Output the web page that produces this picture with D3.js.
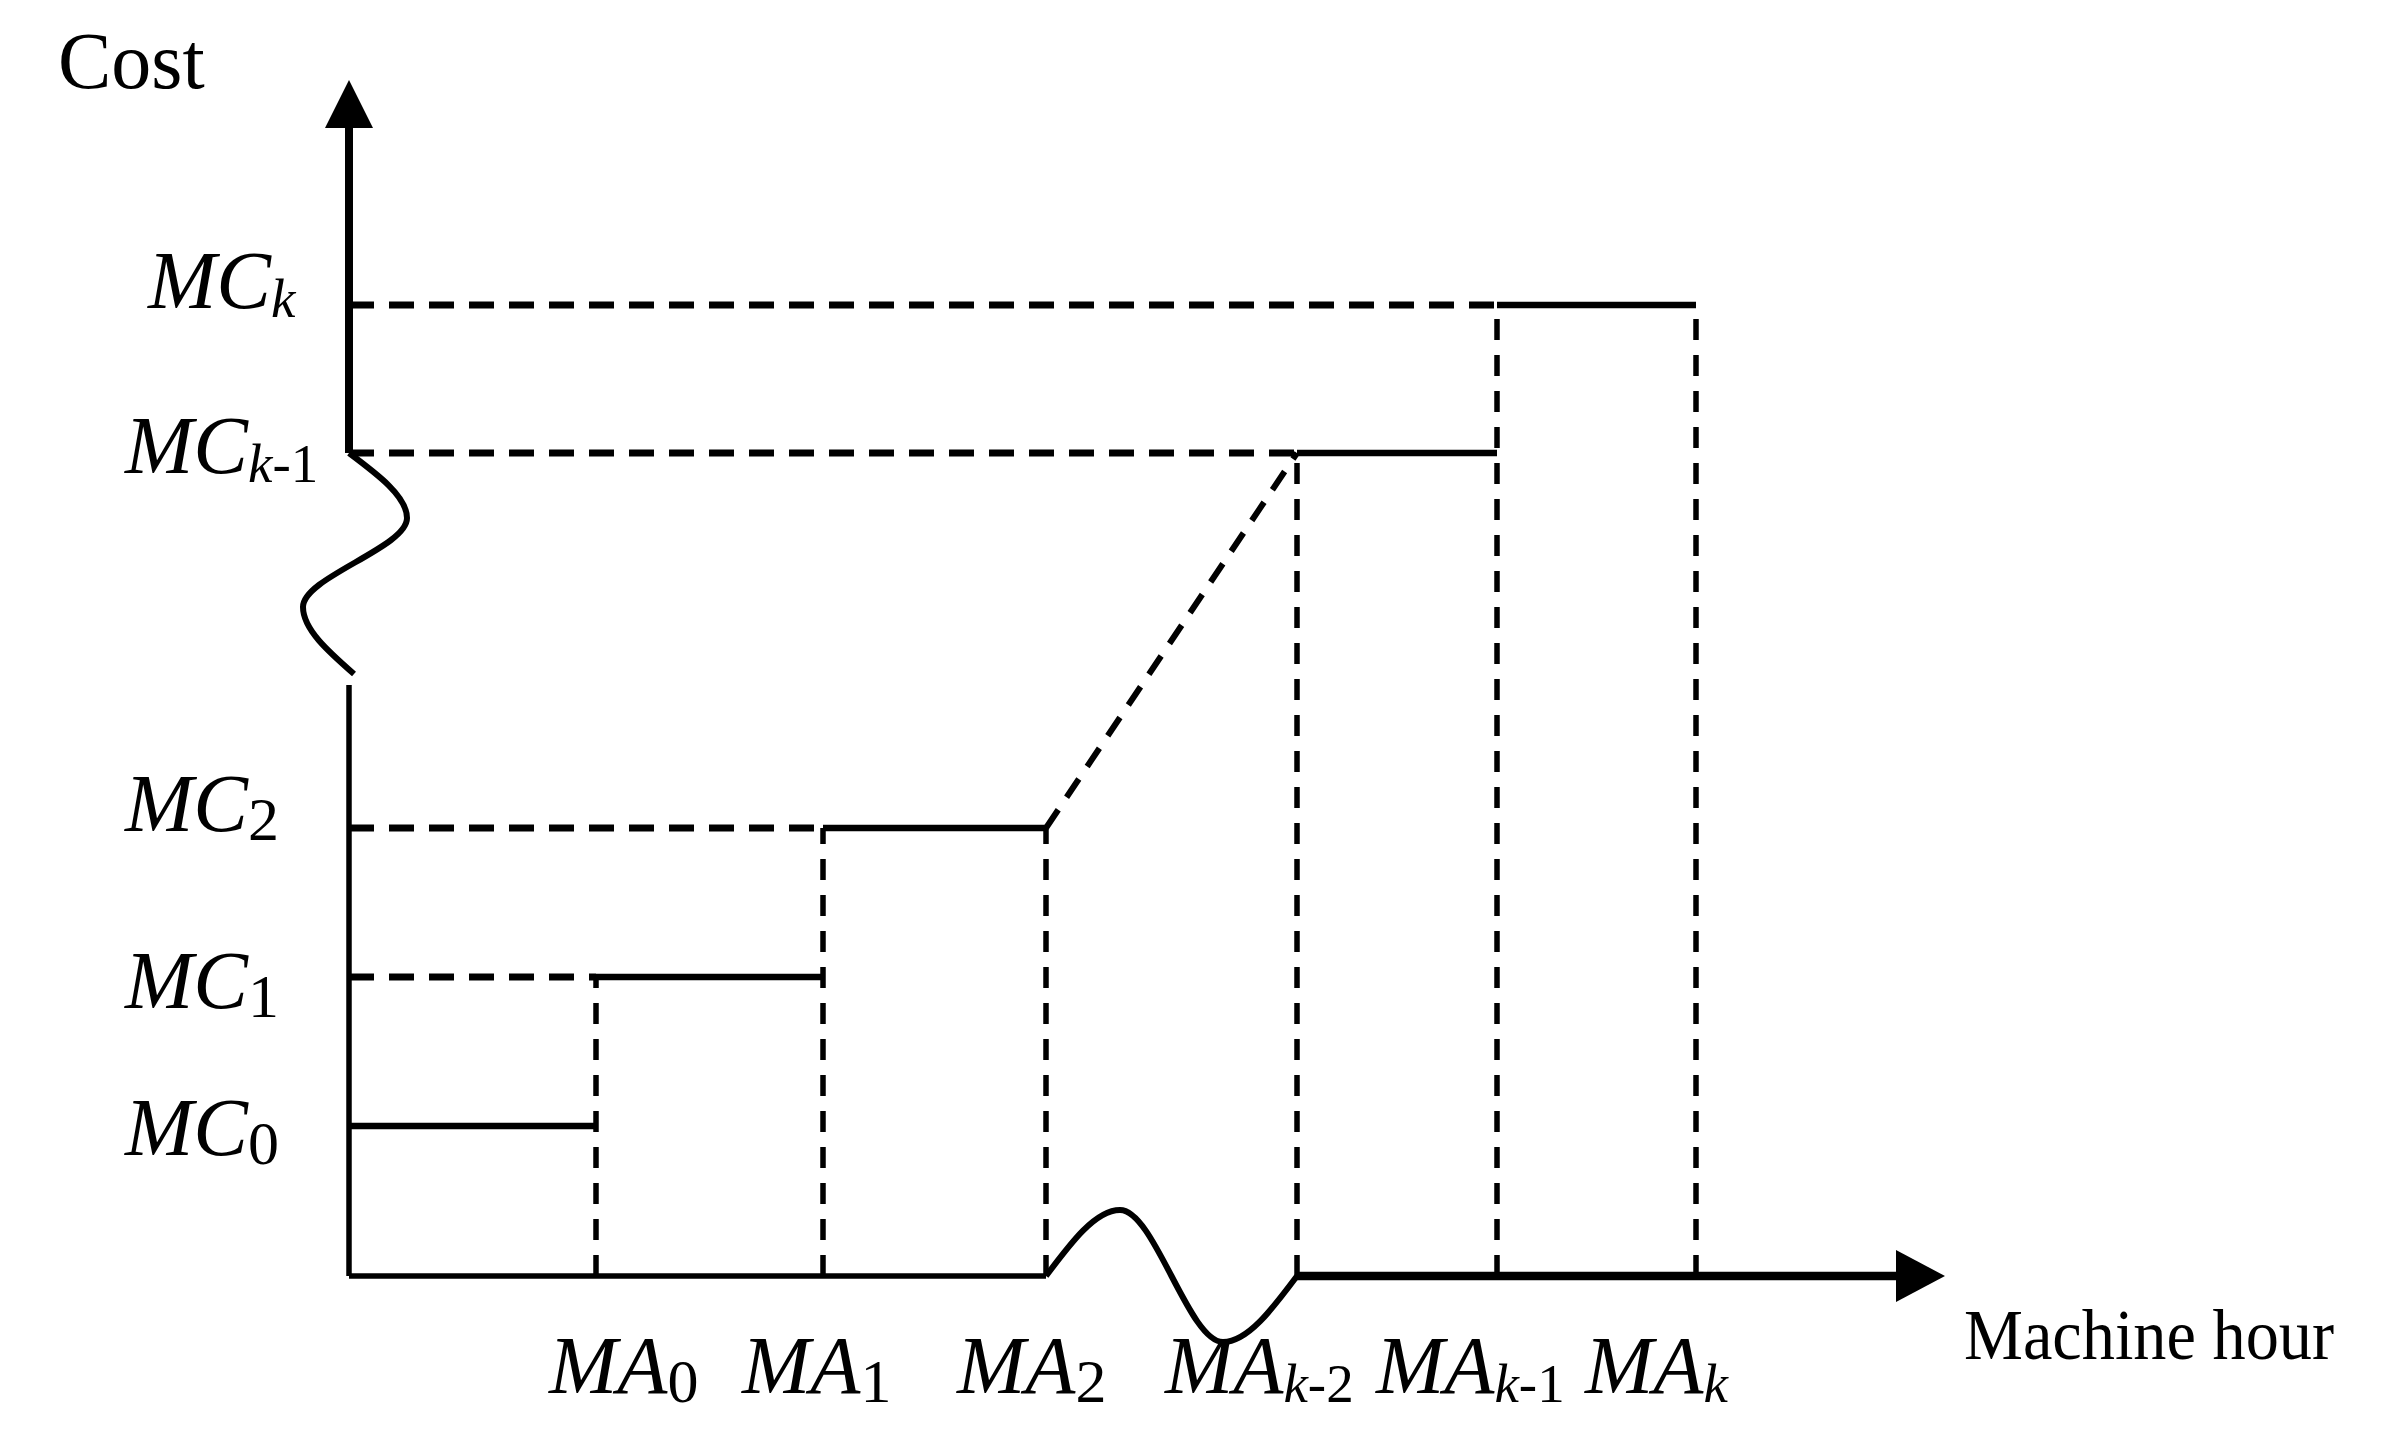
<!DOCTYPE html>
<html>
<head>
<meta charset="utf-8">
<script src="https://cdn.jsdelivr.net/npm/d3@7"></script>
<style>
  html, body { margin: 0; padding: 0; background: #fff; }
  svg text { font-family: "Liberation Serif", "Times New Roman", serif; fill: #000; }
</style>
</head>
<body>
<div id="chart"></div>
<script>
// cost levels MC_i and machine-hour breakpoints MA_j (units)
const costSubs = ["0", "1", "2", "k-1", "k"];
const costLevels = [150, 299, 448, 823, 971];
const hourSubs = ["0", "1", "2", "k-2", "k-1", "k"];
const hourMarks = [247, 474, 697, 948, 1148, 1347];

// axis break curves (x, y) in the same units
const yBreak = [[0, 823], [58, 758], [-46, 669], [5, 602]];
const xBreak = [[697, 0], [771, 66], [874, -66], [948, 0]];
const yResume = 591;     // y-axis starts again below the break
const axisEnd = {x: 1596, y: 1196};

// which marks each cost step runs between (index into hourMarks, -1 = origin)
const stepSpan = [[-1, 0], [0, 1], [1, 2], [3, 4], [4, 5]];

// label layout
const mcLabelX = [125, 125, 125, 125, 148];
const mcLabelDy = [29, 31, 3, 20, 3];
const maLabelDx = [-47, -81, -89, -132, -121, -111];
const maLabelY = 1393;

const width = 2390, height = 1451;

const svg = d3.select("#chart").append("svg")
  .attr("width", width)
  .attr("height", height);

let x = d3.scaleLinear().domain([0, 1596]).range([349, 1945]);
let y = d3.scaleLinear().domain([0, 1196]).range([1276, 80]);

const hx = i => i < 0 ? 0 : hourMarks[i];

//dashed guide lines
let guides = svg.append("g").attr("fill", "none").attr("stroke", "#000");

// horizontal: from the cost axis to where each step starts
guides.selectAll("line.h")
  .data(costLevels.map((c, i) => ({c, from: hx(stepSpan[i][0])})).filter((d, i) => i > 0))
  .enter().append("line")
  .attr("class", "h")
  .attr("x1", x(0)).attr("x2", d => x(d.from))
  .attr("y1", d => y(d.c)).attr("y2", d => y(d.c))
  .attr("stroke-width", 7)
  .attr("stroke-dasharray", "25,15");

// vertical: from the hour axis up to the highest step touching the mark
let vTops = hourMarks.map((m, j) => d3.max(stepSpan, (s, i) => (s[0] == j || s[1] == j) ? costLevels[i] : 0));
guides.selectAll("line.v")
  .data(hourMarks.map((m, j) => ({m, top: vTops[j]})))
  .enter().append("line")
  .attr("class", "v")
  .attr("x1", d => x(d.m)).attr("x2", d => x(d.m))
  .attr("y1", y(0)).attr("y2", d => y(d.top))
  .attr("stroke-width", 5.5)
  .attr("stroke-dasharray", "21,15");

// diagonal jump between MC_2 and MC_k-1
guides.append("line")
  .attr("x1", x(hourMarks[2])).attr("y1", y(costLevels[2]))
  .attr("x2", x(hourMarks[3])).attr("y2", y(costLevels[3]))
  .attr("stroke-width", 6)
  .attr("stroke-dasharray", "22,15");

// solid cost steps
let line = d3.line().x(d => x(d[0])).y(d => y(d[1]));
svg.append("g").selectAll("path")
  .data(stepSpan.map((s, i) => [[hx(s[0]), costLevels[i]], [hx(s[1]), costLevels[i]]]))
  .enter().append("path")
  .attr("d", line)
  .attr("fill", "none")
  .attr("stroke", "#000")
  .attr("stroke-width", 6.5);

//axes
let axes = svg.append("g").attr("fill", "none").attr("stroke", "#000");

// y axis: thin lower part, break, thick upper part
axes.append("path").attr("d", line([[0, 0], [0, yResume]])).attr("stroke-width", 5.5);
axes.append("path")
  .attr("d", d3.line().x(d => x(d[0])).y(d => y(d[1])).curve(d3.curveMonotoneY)(yBreak))
  .attr("stroke-width", 6);
axes.append("path").attr("d", line([[0, yBreak[0][1]], [0, axisEnd.y - 48]])).attr("stroke-width", 8);

// x axis: thin left part, break, thick right part
axes.append("path").attr("d", line([[0, 0], [hourMarks[2], 0]])).attr("stroke-width", 5.5);
axes.append("path")
  .attr("d", d3.line().x(d => x(d[0])).y(d => y(d[1])).curve(d3.curveMonotoneX)(xBreak))
  .attr("stroke-width", 6);
axes.append("path").attr("d", line([[hourMarks[3], 0], [axisEnd.x - 49, 0]])).attr("stroke-width", 8.5);

// arrow heads
let ax0 = x(0), ay0 = y(0);
svg.append("path")
  .attr("d", `M${ax0},${y(axisEnd.y)} L${ax0 - 24},${y(axisEnd.y) + 48} L${ax0 + 24},${y(axisEnd.y) + 48} Z`)
  .attr("fill", "#000");
svg.append("path")
  .attr("d", `M${x(axisEnd.x)},${ay0} L${x(axisEnd.x) - 49},${ay0 - 26} L${x(axisEnd.x) - 49},${ay0 + 26} Z`)
  .attr("fill", "#000");

// axis titles
svg.append("text")
  .attr("x", 58).attr("y", 88)
  .attr("font-size", 80)
  .text("Cost");
svg.append("text")
  .attr("x", 1964).attr("y", 1359)
  .attr("font-size", 72)
  .attr("textLength", 370)
  .attr("lengthAdjust", "spacingAndGlyphs")
  .text("Machine hour");

// italic symbol with subscript: k italic, digits and '-' upright
function symbol (sel, base, sub) {
  sel.append("tspan").attr("font-style", "italic").attr("font-size", 82).text(base);
  let parts = sub.match(/k|[^k]+/g);
  let subSize = sub.includes("k") ? 55 : 62;
  parts.forEach((p, i) => {
    let t = sel.append("tspan")
      .attr("font-size", subSize)
      .attr("font-style", p == "k" ? "italic" : "normal")
      .text(p);
    if (i == 0) t.attr("dy", 9);
  });
}

svg.append("g").selectAll("text")
  .data(costSubs)
  .enter().append("text")
  .attr("x", (d, i) => mcLabelX[i])
  .attr("y", (d, i) => y(costLevels[i]) + mcLabelDy[i])
  .each(function (d) { symbol(d3.select(this), "MC", d); });

svg.append("g").selectAll("text")
  .data(hourSubs)
  .enter().append("text")
  .attr("x", (d, i) => x(hourMarks[i]) + maLabelDx[i])
  .attr("y", maLabelY)
  .each(function (d) { symbol(d3.select(this), "MA", d); });
</script>
</body>
</html>
